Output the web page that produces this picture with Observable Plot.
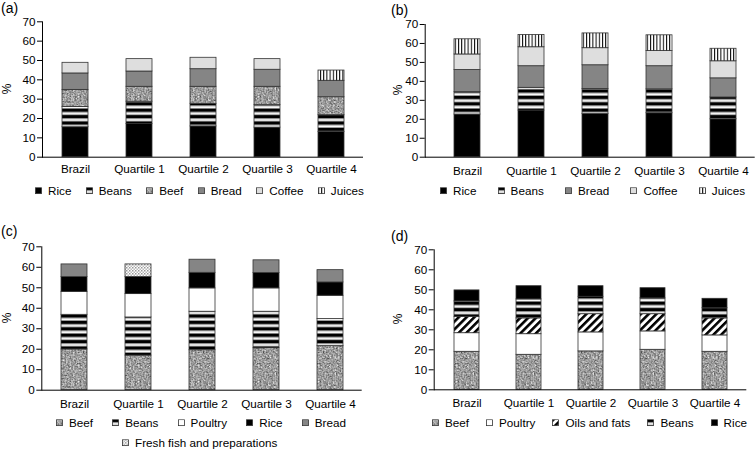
<!DOCTYPE html>
<html><head><meta charset="utf-8">
<script src="https://cdn.jsdelivr.net/npm/d3@7"></script>
<script src="https://cdn.jsdelivr.net/npm/@observablehq/plot@0.6"></script>
<style>
body{margin:0;background:#fff;}
#wrap{position:relative;width:756px;height:449px;overflow:hidden;font-family:"Liberation Sans",Arial,sans-serif;color:#000;background:#fff;}
.panel{position:absolute;}
.ttl{position:absolute;font-size:14px;line-height:1;transform:translateY(-50%);}
.ylab{position:absolute;font-size:12px;line-height:1;transform:translate(-50%,-50%) rotate(-90deg);}
.legend{position:absolute;display:flex;justify-content:space-between;align-items:center;font-size:11.7px;line-height:1;transform:translateY(-50%);white-space:nowrap;}
.item{display:flex;align-items:center;}
.item svg{margin-right:6px;display:block;}
</style></head><body>
<svg width="0" height="0" style="position:absolute">
<defs>
<pattern id="p-beans" patternUnits="userSpaceOnUse" width="8" height="6.4">
 <rect width="8" height="6.4" fill="#fff"/>
 <rect y="0" width="8" height="3.1" fill="#000"/>
 <rect y="3.1" width="8" height="0.8" fill="#777"/>
 <rect y="5.6" width="8" height="0.8" fill="#888"/>
</pattern>
<filter id="f-noise" x="0" y="0" width="100%" height="100%" color-interpolation-filters="sRGB">
 <feTurbulence type="fractalNoise" baseFrequency="0.6" numOctaves="2" seed="3"/>
 <feColorMatrix type="matrix" values="0.33 0.33 0.33 0 0  0.33 0.33 0.33 0 0  0.33 0.33 0.33 0 0  0 0 0 0 1"/>
 <feComponentTransfer>
  <feFuncR type="linear" slope="1.4" intercept="-0.08"/>
  <feFuncG type="linear" slope="1.4" intercept="-0.08"/>
  <feFuncB type="linear" slope="1.4" intercept="-0.08"/>
 </feComponentTransfer>
</filter>
<pattern id="p-beef" patternUnits="userSpaceOnUse" width="60" height="60">
 <rect width="60" height="60" fill="#999" filter="url(#f-noise)"/>
</pattern>
<pattern id="p-juices" patternUnits="userSpaceOnUse" width="3.2" height="10">
 <rect width="3.2" height="10" fill="#fff"/>
 <rect width="1" height="10" fill="#000"/>
</pattern>
<pattern id="p-oils" patternUnits="userSpaceOnUse" width="5.5" height="5.5" patternTransform="rotate(45)">
 <rect width="5.5" height="5.5" fill="#fff"/>
 <rect width="2.6" height="5.5" fill="#000"/>
</pattern>
<pattern id="p-fish" patternUnits="userSpaceOnUse" width="3" height="3">
 <rect width="3" height="3" fill="#fff"/>
 <rect width="1.5" height="1.5" fill="#999"/>
 <rect x="1.5" y="1.5" width="1.5" height="1.5" fill="#bbb"/>
</pattern>
</defs>
</svg>
<div id="wrap"></div>
<script>
// ---- data ----
const categories = ["Brazil", "Quartile 1", "Quartile 2", "Quartile 3", "Quartile 4"];

// (a)
const aSeries = ["Rice", "Beans", "Beef", "Bread", "Coffee", "Juices"];
const aRice   = [15.5, 17.2, 15.9, 15.3, 13.1];
const aBeans  = [10.5, 11.5, 11.7, 11.6, 8.6];
const aBeef   = [8.8, 7.7, 8.8, 9.5, 9.3];
const aBread  = [8.5, 7.9, 9.1, 8.8, 8.5];
const aCoffee = [5.5, 6.4, 5.9, 5.5, 0];
const aJuices = [0, 0, 0, 0, 5.3];

// (b)
const bSeries = ["Rice", "Beans", "Bread", "Coffee", "Juices"];
const bRice   = [22.5, 24.6, 22.8, 23.2, 20.0];
const bBeans  = [11.8, 12.0, 13.2, 12.6, 11.5];
const bBread  = [11.7, 11.4, 12.5, 12.2, 10.1];
const bCoffee = [8.2, 10.0, 9.0, 8.0, 9.0];
const bJuices = [8.0, 6.5, 7.8, 8.3, 6.6];

// (c)
const cSeries  = ["Beef", "Beans", "Poultry", "Rice", "Bread", "Fresh fish and preparations"];
const cBeef    = [19.9, 16.9, 19.5, 20.5, 21.5];
const cBeans   = [16.9, 18.6, 18.8, 17.8, 13.2];
const cPoultry = [11.2, 11.4, 11.4, 11.4, 11.4];
const cRice    = [7.2, 8.3, 7.6, 7.5, 6.5];
const cBread   = [6.2, 0, 6.4, 6.2, 6.0];
const cFish    = [0, 6.2, 0, 0, 0];

// (d)
const dSeries  = ["Beef", "Poultry", "Oils and fats", "Beans", "Rice"];
const dBeef    = [19.0, 17.5, 19.2, 20.0, 19.0];
const dPoultry = [9.3, 10.3, 9.5, 9.2, 8.2];
const dOils    = [8.2, 7.9, 9.1, 8.6, 8.5];
const dBeans   = [7.7, 9.5, 8.7, 7.9, 5.1];
const dRice    = [5.5, 6.6, 5.3, 5.1, 4.7];

const yTicks = [0, 10, 20, 30, 40, 50, 60, 70];

// ---- styles ----
const fills = {
  "Rice": "#000000",
  "Beans": "url(#p-beans)",
  "Beef": "url(#p-beef)",
  "Bread": "#858585",
  "Coffee": "#dedede",
  "Juices": "url(#p-juices)",
  "Poultry": "#ffffff",
  "Oils and fats": "url(#p-oils)",
  "Fresh fish and preparations": "url(#p-fish)"
};

const wrap = document.getElementById("wrap");

function makePanel(cfg) {
  const rows = [];
  cfg.series.forEach((s, i) => cfg.values[i].forEach((v, j) => {
    if (v > 0) rows.push({cat: categories[j], food: s, value: v});
  }));
  const xOpts = {domain: categories, paddingInner: 0.6, paddingOuter: 0.3, tickSize: 0, tickPadding: cfg.tickPad, label: null};
  if (cfg.xRange) xOpts.range = cfg.xRange;
  const svg = Plot.plot({
    width: 378, height: cfg.h,
    marginLeft: cfg.ml, marginRight: cfg.mr, marginTop: cfg.mt, marginBottom: cfg.mb,
    style: {fontFamily: "'Liberation Sans', Arial, sans-serif", fontSize: "11.7px", color: "#000", background: "transparent", overflow: "visible"},
    x: xOpts,
    y: {domain: [0, 70], ticks: yTicks, tickSize: 5, tickPadding: 2, line: true, label: null},
    color: {domain: cfg.series, range: cfg.series.map(s => fills[s])},
    marks: [
      Plot.barY(rows, Plot.stackY({x: "cat", y: "value", fill: "food", stroke: "#333", strokeWidth: 0.8})),
      Plot.ruleY([0], {stroke: "#000", strokeWidth: 1})
    ]
  });
  const div = document.createElement("div");
  div.className = "panel";
  div.style.left = cfg.left + "px";
  div.style.top = cfg.top + "px";
  div.appendChild(svg);
  wrap.appendChild(div);

  const t = document.createElement("div");
  t.className = "ttl"; t.textContent = cfg.title;
  t.style.left = cfg.titleX + "px"; t.style.top = cfg.titleY + "px";
  wrap.appendChild(t);

  const yl = document.createElement("div");
  yl.className = "ylab"; yl.textContent = "%";
  yl.style.left = cfg.ylabX + "px"; yl.style.top = cfg.ylabY + "px";
  wrap.appendChild(yl);

  cfg.legendRows.forEach(r => {
    const lg = document.createElement("div");
    lg.className = "legend";
    lg.style.left = r.left + "px"; lg.style.top = r.top + "px";
    if (r.width) lg.style.width = r.width + "px";
    r.items.forEach(s => {
      const it = document.createElement("div");
      it.className = "item";
      it.innerHTML = `<svg width="7" height="7"><rect x="0.5" y="0.5" width="6" height="6" fill="${fills[s]}" stroke="#333" stroke-width="0.8"/></svg><span>${s}</span>`;
      lg.appendChild(it);
    });
    wrap.appendChild(lg);
  });
}

makePanel({
  title: "(a)", titleX: 1, titleY: 8, ylabX: 7, ylabY: 89,
  left: 0, top: 0, h: 180, ml: 42, mr: 15, mt: 21.3, mb: 23.3, tickPad: 7.5,
  series: aSeries, values: [aRice, aBeans, aBeef, aBread, aCoffee, aJuices],
  legendRows: [{left: 35, top: 191, width: 329, items: aSeries}]
});
makePanel({
  title: "(b)", titleX: 391, titleY: 10, ylabX: 398, ylabY: 90,
  left: 378, top: 0, h: 180, ml: 46.7, mr: 1.3, mt: 24, mb: 23.3, tickPad: 9, xRange: [55.5, 378],
  series: bSeries, values: [bRice, bBeans, bBread, bCoffee, bJuices],
  legendRows: [{left: 440, top: 190.7, width: 305, items: bSeries}]
});
makePanel({
  title: "(c)", titleX: 1, titleY: 231, ylabX: 7, ylabY: 318,
  left: 0, top: 225, h: 190, ml: 41.3, mr: 16.3, mt: 21.3, mb: 25.3, tickPad: 9,
  series: cSeries, values: [cBeef, cBeans, cPoultry, cRice, cBread, cFish],
  legendRows: [
    {left: 56, top: 422.7, width: 290, items: cSeries.slice(0, 5)},
    {left: 122, top: 442.7, items: cSeries.slice(5)}
  ]
});
makePanel({
  title: "(d)", titleX: 391, titleY: 236, ylabX: 397.5, ylabY: 319,
  left: 378, top: 225, h: 190, ml: 55.7, mr: 9.7, mt: 24.3, mb: 25.7, tickPad: 9.3,
  series: dSeries, values: [dBeef, dPoultry, dOils, dBeans, dRice],
  legendRows: [{left: 432, top: 422.7, width: 315, items: dSeries}]
});
</script>
</body></html>
